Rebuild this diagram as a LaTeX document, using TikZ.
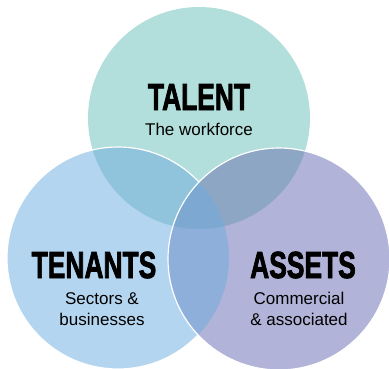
\documentclass[tikz,border=0pt]{standalone}
\usepackage{fontspec}
\setmainfont{Liberation Sans}
\newfontfamily\headfont[FakeBold=2.5]{Liberation Sans Bold}
\usetikzlibrary{positioning}

\definecolor{talentFill}{HTML}{B2DFDB}
\definecolor{tenantFill}{HTML}{B3D5EF}
\definecolor{assetFill}{HTML}{B1B3D8}
\definecolor{talentTenant}{HTML}{8FC4DC}
\definecolor{talentAsset}{HTML}{8CA6C3}
\definecolor{tenantAsset}{HTML}{8DAFDA}
\definecolor{allThree}{HTML}{7CA8D2}

\newcommand{\talentDisc}{(199,118) circle[radius=111pt]}
\newcommand{\tenantDisc}{(118,258) circle[radius=111pt]}
\newcommand{\assetDisc}{(279,259) circle[radius=111pt]}

\begin{document}
\begin{tikzpicture}
[x=1pt,y=-1pt,
  titleDecorate/.style={anchor=base,inner sep=0pt,
    font=\fontsize{37.7}{40}\selectfont\headfont},%
  textDecorate/.style={anchor=base,inner sep=0pt,align=center,
    font=\fontsize{17}{21}\selectfont},%
  rimDecorate/.style={draw=white,line width=1.2pt}]
\useasboundingbox (0,0) rectangle (389,368);
%% talent circle
\fill[talentFill] \talentDisc;
%% tenants circle, with its overlap on talent
\fill[tenantFill] \tenantDisc;
\begin{scope}
  \clip \tenantDisc;
  \fill[talentTenant] \talentDisc;
\end{scope}
\draw[rimDecorate] \tenantDisc;
%% assets circle, with its overlaps
\fill[assetFill] \assetDisc;
\begin{scope}
  \clip \assetDisc;
  \fill[talentAsset] \talentDisc;
  \fill[tenantAsset] \tenantDisc;
  \clip \talentDisc;
  \fill[allThree] \tenantDisc;
\end{scope}
\draw[rimDecorate] \assetDisc;
%% labels (a two-line node sits on its last baseline)
\node (talent) at (199,110) [titleDecorate] {\scalebox{0.7}[1]{TALENT}};
\node (talentSub) at (199,135) [textDecorate] {The workforce};
\node (tenants) at (94,278) [titleDecorate] {\scalebox{0.7}[1]{TENANTS}};
\node (tenantsSub) at (102,325) [textDecorate] {Sectors \&\\businesses};
\node (assets) at (303,278) [titleDecorate] {\scalebox{0.7}[1]{ASSETS}};
\node (assetsSub) at (299,325) [textDecorate] {Commercial\\\& associated};
\end{tikzpicture}
\end{document}
